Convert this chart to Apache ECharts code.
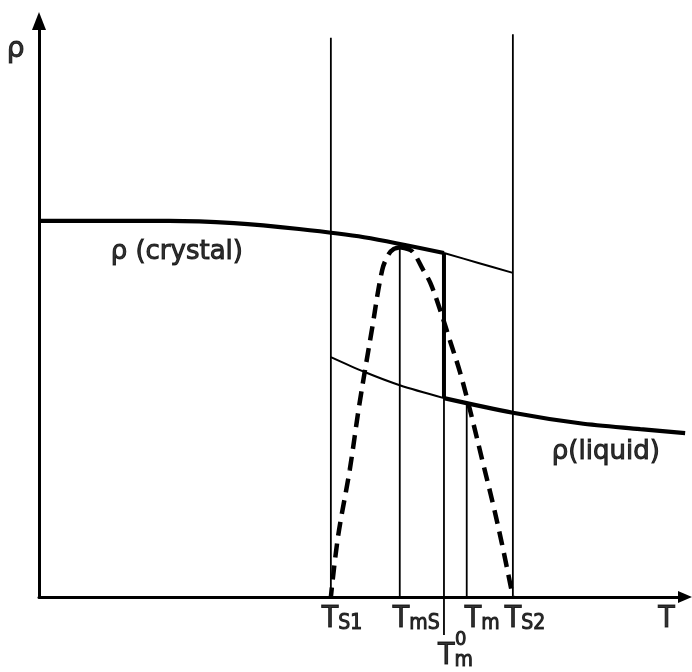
<!DOCTYPE html>
<html>
<head>
<meta charset="utf-8">
<script src="https://cdn.jsdelivr.net/npm/echarts@6/dist/echarts.min.js"></script>
<style>html,body{margin:0;padding:0;background:#fff}#c{width:692px;height:672px}</style>
</head>
<body>
<div id="c"></div>
<script>
// ---- data (arbitrary units: T along x, rho along y) ----
const crystalT   = [0, 10, 20, 30, 40, 50, 62.3, 67.6, 72.9];
const crystalRho = [64.3, 64.3, 64.3, 63.9, 62.9, 61.5, 58.8, 57.1, 55.4];
const liquidT    = [44.9, 50, 55.5, 62.3, 72.9, 83.2, 92.5, 99.4];
const liquidRho  = [41.0, 38.5, 36.2, 34.0, 31.5, 29.7, 28.7, 28.0];
// dashed curve, left branch and right branch, both listed from the peak downwards
const dashLeftT    = [55.5, 54.6, 53.8, 52.8, 51.2, 49.3, 47.8, 46.0, 44.9];
const dashLeftRho  = [59.8, 59.5, 58.6, 55.9, 45.6, 33.0, 21.7, 10.3, 0];
const dashRightT   = [55.5, 56.4, 57.5, 59.1, 60.2, 61.7, 63.2, 64.8, 66.5, 68.3, 69.8, 71.2, 72.9];
const dashRightRho = [59.8, 59.6, 59.0, 55.9, 53.7, 49.1, 43.9, 38.3, 31.1, 22.9, 16.1, 9.2, 0];
const splitT = 62.3; // T_m^0 : thick/thin switch point
const guideT      = [44.9, 55.5, 62.3, 65.8, 72.9];
const guideBottom = [0, 0, -6.5, 0, 0];
const guideTop    = [95.6, 60.2, 58.8, 33.3, 96.2];
const tm0Thick    = [34.0, 58.8];
const tickLabels  = ['T_S1', 'T_mS', 'T_m^0', 'T_m', 'T_S2'];
const axisNameT = 'T', axisNameRho = 'ρ';
const crystalLabel = 'ρ (crystal)', liquidLabel = 'ρ(liquid)';
const T_MAX = 99.38, RHO_MAX = 98.46;

// ---- build ----
function pairs(xs, ys) { return xs.map((x, i) => [x, ys[i]]); }
const crys = pairs(crystalT, crystalRho), liq = pairs(liquidT, liquidRho);
const crysThick = crys.filter(p => p[0] <= splitT), crysThin = crys.filter(p => p[0] >= splitT);
const liqThin = liq.filter(p => p[0] <= splitT), liqThick = liq.filter(p => p[0] >= splitT);

const FONT = '"DejaVu Sans Condensed", "DejaVu Sans", sans-serif';
const BLK = '#000';
function lineSeries(data, width, extra) {
  return Object.assign({
    type: 'line', data: data, symbol: 'none', silent: true, clip: false, animation: false,
    lineStyle: { color: BLK, width: width, cap: 'butt' }
  }, extra || {});
}
const smoothOpt = { smooth: 0.3 };

const series = [];
series.push(lineSeries(crysThick, 4.2, smoothOpt));
series.push(lineSeries(crysThin, 2, smoothOpt));
series.push(lineSeries(liqThin, 2, smoothOpt));
series.push(lineSeries(liqThick, 4.2, smoothOpt));
guideT.forEach((t, i) => series.push(lineSeries([[t, guideBottom[i]], [t, guideTop[i]]], 1.8)));
series.push(lineSeries([[splitT, tm0Thick[0]], [splitT, tm0Thick[1]]], 4));
const dashStyle = { smooth: 0.35, lineStyle: { color: BLK, width: 4.5, type: [14, 8], cap: 'butt' } };
series.push(lineSeries(pairs(dashLeftT, dashLeftRho), 4.5, dashStyle));
series.push(lineSeries(pairs(dashRightT, dashRightRho), 4.5, dashStyle));

// labels
const bord = { textBorderColor: BLK, textBorderWidth: 1 };
const rich = {
  t: Object.assign({ fontFamily: FONT, fontSize: 30, lineHeight: 30, padding: [0, 0, 7, 0], verticalAlign: 'top', color: BLK }, bord),
  s: Object.assign({ fontFamily: FONT, fontSize: 21, lineHeight: 21, verticalAlign: 'bottom', color: BLK }, bord),
  p: Object.assign({ fontFamily: FONT, fontSize: 20, lineHeight: 20, color: BLK }, bord)
};
function tickRich(str) {
  const m = str.match(/^T_([^\^]+)(\^(.+))?$/);
  return '{t|T}{s|' + m[1] + '}';
}
const tickOffsets = [[-9, 7.5], [-7, 7.5], [-6, 44.5], [-2, 7.5], [-8, 7.5]];
const labelData = [];
tickLabels.forEach((lab, i) => {
  labelData.push({ value: [guideT[i], 0], label: { formatter: tickRich(lab), offset: tickOffsets[i] } });
  const sup = lab.split('^')[1];
  if (sup) labelData.push({ value: [guideT[i], 0], label: { formatter: '{p|' + sup + '}', offset: [11, 32.7] } });
});
labelData.push({ value: [95.1, 0], label: { formatter: '{t|' + axisNameT + '}', offset: [1, 7.5] } });
series.push({
  type: 'scatter', symbolSize: 0, clip: false, silent: true, animation: false, data: labelData,
  label: { show: true, position: [0, 0], align: 'left', verticalAlign: 'top', rich: rich }
});
const textItems = [
  { value: [-3.6, 93.5], label: { formatter: axisNameRho, fontSize: 28 } },
  { value: [21.2, 59.0], label: { formatter: crystalLabel, fontSize: 26 } },
  { value: [87.2, 24.8], label: { formatter: liquidLabel, fontSize: 26 } }
];
series.push({
  type: 'scatter', symbolSize: 0, clip: false, silent: true, animation: false, data: textItems,
  label: Object.assign({ show: true, position: 'inside', align: 'center', verticalAlign: 'middle', fontFamily: '"DejaVu Sans", sans-serif', color: BLK }, bord)
});

const axisCommon = {
  type: 'value', min: 0, splitLine: { show: false }, axisTick: { show: false }, axisLabel: { show: false },
  axisLine: { show: true, onZero: false, lineStyle: { color: BLK, width: 3 }, symbol: ['none', 'triangle'] }
};
const chart = echarts.init(document.getElementById('c'), null, { renderer: 'canvas' });
chart.setOption({
  backgroundColor: '#fff',
  animation: false,
  grid: { left: 39, right: 7, top: 21, bottom: 75, containLabel: false },
  xAxis: Object.assign({}, axisCommon, { max: T_MAX, axisLine: Object.assign({}, axisCommon.axisLine, { symbolSize: [12, 14] }) }),
  yAxis: Object.assign({}, axisCommon, { max: RHO_MAX, axisLine: Object.assign({}, axisCommon.axisLine, { symbolSize: [14, 18] }) }),
  series: series
});
</script>
</body>
</html>
